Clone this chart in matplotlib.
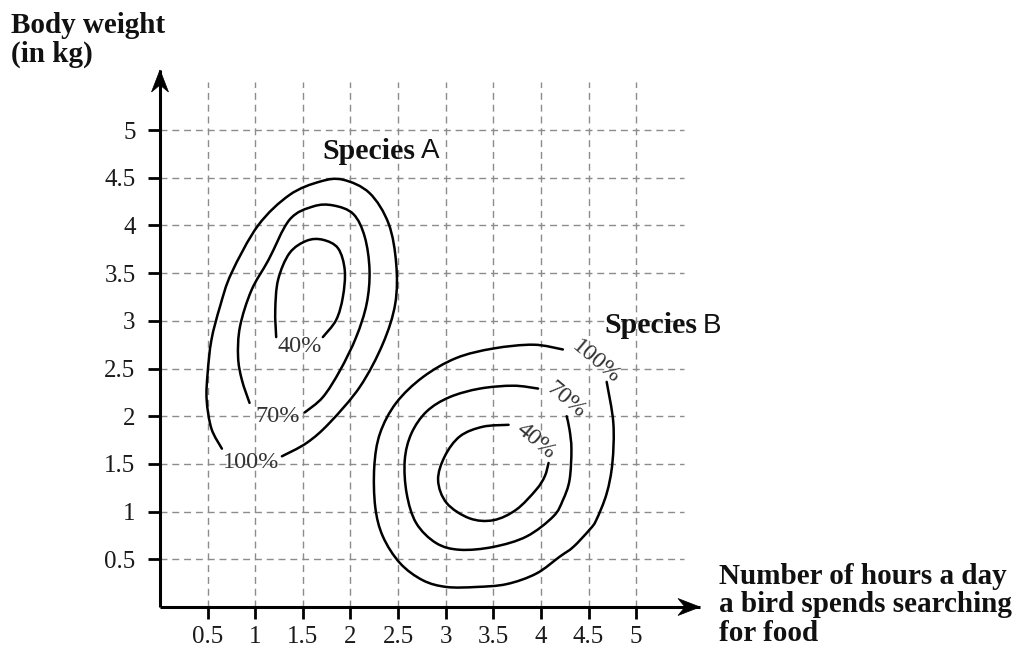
import numpy as np
import matplotlib
matplotlib.use("Agg")
import matplotlib.pyplot as plt
from matplotlib.path import Path
from matplotlib.patches import PathPatch, Polygon
import matplotlib.transforms as mtransforms

# ---------------- data ----------------
xticks = [0.5, 1, 1.5, 2, 2.5, 3, 3.5, 4, 4.5, 5]
xticklabels = ["0.5", "1", "1.5", "2", "2.5", "3", "3.5", "4", "4.5", "5"]
yticks = [0.5, 1, 1.5, 2, 2.5, 3, 3.5, 4, 4.5, 5]
yticklabels = ["0.5", "1", "1.5", "2", "2.5", "3", "3.5", "4", "4.5", "5"]

# Species A contours (open curves, gap where the label sits)
A100_x = [0.65, 0.54, 0.49, 0.50, 0.54, 0.63, 0.75, 1.03, 1.36, 1.68, 1.92, 2.20, 2.40, 2.48, 2.47, 2.34, 2.10, 1.78, 1.54, 1.28]
A100_y = [1.66, 1.87, 2.17, 2.45, 2.80, 3.15, 3.50, 4.00, 4.32, 4.46, 4.48, 4.34, 4.02, 3.60, 3.18, 2.76, 2.31, 1.93, 1.72, 1.58]
A70_x = [0.94, 0.86, 0.82, 0.84, 0.96, 1.14, 1.36, 1.61, 1.82, 2.03, 2.15, 2.20, 2.17, 2.06, 1.89, 1.71, 1.52]
A70_y = [2.14, 2.38, 2.62, 2.94, 3.32, 3.64, 4.06, 4.20, 4.21, 4.12, 3.88, 3.53, 3.18, 2.83, 2.48, 2.20, 2.04]
A40_x = [1.22, 1.21, 1.24, 1.36, 1.54, 1.71, 1.87, 1.94, 1.92, 1.85, 1.71]
A40_y = [2.83, 3.11, 3.43, 3.71, 3.84, 3.85, 3.76, 3.53, 3.25, 3.01, 2.83]

# Species B contours
B100_x = [4.23, 3.92, 3.50, 3.11, 2.76, 2.48, 2.31, 2.25, 2.26, 2.34, 2.52, 2.76, 3.01, 3.32, 3.64, 3.95, 4.20, 4.34, 4.51, 4.58, 4.69, 4.75, 4.76, 4.69]
B100_y = [2.70, 2.75, 2.71, 2.61, 2.41, 2.14, 1.82, 1.47, 1.05, 0.74, 0.46, 0.28, 0.21, 0.21, 0.24, 0.35, 0.53, 0.63, 0.81, 0.91, 1.19, 1.51, 1.93, 2.36]
B70_x = [3.97, 3.71, 3.36, 3.04, 2.80, 2.64, 2.57, 2.59, 2.69, 2.90, 3.15, 3.50, 3.85, 4.13, 4.23, 4.30, 4.32, 4.30, 4.27]
B70_y = [2.29, 2.32, 2.29, 2.20, 2.05, 1.82, 1.54, 1.19, 0.88, 0.67, 0.60, 0.63, 0.74, 0.95, 1.12, 1.33, 1.65, 1.86, 2.00]
B40_x = [3.66, 3.39, 3.15, 2.99, 2.92, 3.01, 3.25, 3.50, 3.74, 3.95, 4.04, 4.08]
B40_y = [1.91, 1.89, 1.79, 1.58, 1.33, 1.09, 0.93, 0.91, 1.02, 1.23, 1.37, 1.51]

contour_labels = ["40%", "70%", "100%", "40%", "70%", "100%"]
label_x = [1.47, 1.24, 0.96, 3.95, 4.26, 4.58]
label_y = [2.73, 2.00, 1.52, 1.74, 2.17, 2.57]
label_rot = [0, 0, 0, -40, -40, -40]

species_names = ["A", "B"]
species_x = [1.71, 4.67]
species_y = [4.70, 2.87]

# ---------------- figure ----------------
W, H = 1016, 650
fig = plt.figure(figsize=(W / 100, H / 100), dpi=100)
ax = fig.add_axes([160 / W, 43 / H, 540 / W, 537 / H])
XMAX, YMAX = 5.67, 5.63
ax.set_xlim(0, XMAX)
ax.set_ylim(0, YMAX)

serif = "Liberation Serif"
sans = "Liberation Sans"

for s in ["top", "right"]:
    ax.spines[s].set_visible(False)
for s in ["left", "bottom"]:
    ax.spines[s].set_linewidth(2.2)
    ax.spines[s].set_capstyle("butt")
    ax.spines[s].set_zorder(5)

# grid
grid_kw = dict(colors="#8c8c8c", linewidth=1.0, linestyles=(0, (5, 3.5)), zorder=1)
ax.vlines(xticks, 0, 5.5, **grid_kw)
ax.hlines(yticks, 0, 5.5, **grid_kw)

# ticks
ax.set_xticks(xticks, xticklabels)
ax.set_yticks(yticks, yticklabels)
ax.tick_params(axis="both", direction="out", length=8.6, width=2.0, color="black",
               labelsize=18, labelcolor="#1a1a1a")
ax.tick_params(axis="x", pad=5)
ax.tick_params(axis="y", pad=9)
for lab in ax.get_xticklabels() + ax.get_yticklabels():
    lab.set_family(serif)

# arrow heads (pixel shape)
def head(tx, ty, angle):
    verts = [(0, 0), (-22, 8.5), (-15, 0), (-22, -8.5)]
    tr = mtransforms.Affine2D().rotate_deg(angle) + mtransforms.ScaledTranslation(tx, ty, ax.transData)
    p = Polygon(verts, closed=True, transform=tr, facecolor="black", edgecolor="black",
                linewidth=0.5, clip_on=False, zorder=6)
    ax.add_patch(p)

head(XMAX, 0, 0)
head(0, YMAX, 90)

# contour curves
def smooth_path(xs, ys):
    P = np.column_stack([xs, ys]).astype(float)
    ext = np.vstack([P[0], P, P[-1]])
    verts = [P[0]]
    codes = [Path.MOVETO]
    for i in range(1, len(ext) - 2):
        p0, p1, p2, p3 = ext[i - 1], ext[i], ext[i + 1], ext[i + 2]
        c1 = p1 + (p2 - p0) / 6.0
        c2 = p2 - (p3 - p1) / 6.0
        verts += [c1, c2, p2]
        codes += [Path.CURVE4] * 3
    return Path(verts, codes)

for xs, ys in [(A100_x, A100_y), (A70_x, A70_y), (A40_x, A40_y),
               (B100_x, B100_y), (B70_x, B70_y), (B40_x, B40_y)]:
    ax.add_patch(PathPatch(smooth_path(xs, ys), fill=False, edgecolor="black",
                           linewidth=1.8, zorder=3, capstyle="round"))

for t, x, y, r in zip(contour_labels, label_x, label_y, label_rot):
    ax.text(x, y, t, ha="center", va="center", rotation=r, rotation_mode="anchor",
            fontsize=17.5, family=serif, color="#333333", zorder=4)

for name, x, y in zip(species_names, species_x, species_y):
    t1 = ax.text(x, y, "Species", ha="left", va="baseline", fontsize=21.5,
                 fontweight="bold", family=serif, color="#111111", zorder=4)
    ax.annotate(name, xy=(1, 0), xycoords=t1, xytext=(3.5, 0.5), textcoords="offset points",
                ha="left", va="bottom", fontsize=20, family=sans, color="#111111", zorder=4)

fig.text(11 / W, 1 - 12 / H, "Body weight\n(in kg)", ha="left", va="top",
         fontsize=21, fontweight="bold", family=serif, linespacing=1.06, color="#111111")
fig.text(719 / W, 1 - 563 / H, "Number of hours a day\na bird spends searching\nfor food",
         ha="left", va="top", fontsize=21, fontweight="bold", family=serif,
         linespacing=1.06, color="#111111")

fig.savefig("out.png", dpi=100)
